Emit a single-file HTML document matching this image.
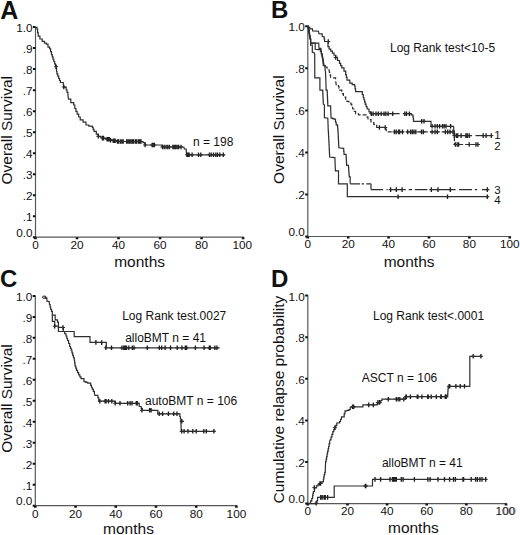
<!DOCTYPE html>
<html><head><meta charset="utf-8"><title>Figure</title>
<style>
html,body{margin:0;padding:0;background:#fff;}
body{width:520px;height:535px;overflow:hidden;}
svg{display:block;}
text{font-family:"Liberation Sans", sans-serif;}
</style></head><body>
<svg width="520" height="535" viewBox="0 0 520 535" font-family='"Liberation Sans", sans-serif' fill="#111">
<rect width="520" height="535" fill="#fff"/>
<path d="M35.5 26.6V237.2" stroke="#585858" stroke-width="1.2"/>
<path d="M35.5 237.2H244.1" stroke="#585858" stroke-width="1.2"/>
<text x="32.6" y="236.9" font-size="11.75" text-anchor="end" font-weight="normal">0.0</text>
<text x="32.6" y="221.09" font-size="11.75" text-anchor="end" font-weight="normal">.1</text>
<text x="32.6" y="200.08" font-size="11.75" text-anchor="end" font-weight="normal">.2</text>
<text x="32.6" y="179.07" font-size="11.75" text-anchor="end" font-weight="normal">.3</text>
<text x="32.6" y="158.06" font-size="11.75" text-anchor="end" font-weight="normal">.4</text>
<text x="32.6" y="137.05" font-size="11.75" text-anchor="end" font-weight="normal">.5</text>
<text x="32.6" y="116.04" font-size="11.75" text-anchor="end" font-weight="normal">.6</text>
<text x="32.6" y="95.03" font-size="11.75" text-anchor="end" font-weight="normal">.7</text>
<text x="32.6" y="74.02" font-size="11.75" text-anchor="end" font-weight="normal">.8</text>
<text x="32.6" y="53.01" font-size="11.75" text-anchor="end" font-weight="normal">.9</text>
<text x="32.6" y="32" font-size="11.75" text-anchor="end" font-weight="normal">1.0</text>
<text x="35.5" y="249" font-size="11.75" text-anchor="middle" font-weight="normal">0</text>
<text x="77.02" y="249" font-size="11.75" text-anchor="middle" font-weight="normal">20</text>
<text x="118.54" y="249" font-size="11.75" text-anchor="middle" font-weight="normal">40</text>
<text x="160.06" y="249" font-size="11.75" text-anchor="middle" font-weight="normal">60</text>
<text x="201.58" y="249" font-size="11.75" text-anchor="middle" font-weight="normal">80</text>
<text x="242.3" y="249" font-size="11.75" text-anchor="middle" font-weight="normal">100</text>
<path d="M32.9 236.2h2.6v2h-2.6zM32.9 215.19h2.6v2h-2.6zM32.9 194.18h2.6v2h-2.6zM32.9 173.17h2.6v2h-2.6zM32.9 152.16h2.6v2h-2.6zM32.9 131.15h2.6v2h-2.6zM32.9 110.14h2.6v2h-2.6zM32.9 89.13h2.6v2h-2.6zM32.9 68.12h2.6v2h-2.6zM32.9 47.11h2.6v2h-2.6zM32.9 26.1h2.6v2h-2.6zM34.2 237.2h2.6v2h-2.6zM75.72 237.2h2.6v2h-2.6zM117.24 237.2h2.6v2h-2.6zM158.76 237.2h2.6v2h-2.6zM200.28 237.2h2.6v2h-2.6zM241.8 237.2h2.6v2h-2.6z" fill="#111"/>
<text x="0.3" y="18.6" font-size="25" text-anchor="start" font-weight="bold">A</text>
<text x="12.1" y="130.25" font-size="15.5" text-anchor="middle" font-weight="normal" transform="rotate(-90 12.1 130.25)">Overall Survival</text>
<text x="139.6" y="266.9" font-size="15.5" text-anchor="middle" font-weight="normal">months</text>
<text x="193" y="145.6" font-size="12" text-anchor="start" font-weight="normal">n = 198</text>
<polyline points="35.7,27.3 37,27.3 37,29.2 37.6,29.2 37.6,32.7 38.2,32.7 38.2,36.2 39.9,36.2 39.9,39 42.2,39 42.2,41.3 44.5,41.3 44.5,43.1 46.3,43.1 46.3,44.2 48,44.2 48,47.1 49.7,47.1 49.7,48.8 50.6,48.8 50.6,51.7 51.5,51.7 51.5,54.6 52.27,54.6 52.27,56.9 53.03,56.9 53.03,59.2 53.8,59.2 53.8,61.5 54.65,61.5 54.65,63.85 55.5,63.85 55.5,66.2 56.3,66.2 56.3,69.2 56.6,69.2 56.6,71.5 56.9,71.5 56.9,73.8 57.8,73.8 57.8,76.15 58.7,76.15 58.7,78.5 59.55,78.5 59.55,80.5 60.4,80.5 60.4,82.5 63.3,82.5 63.3,84.8 63.8,87.1 66.2,87.1 66.2,90 67.05,90 67.05,92.3 67.9,92.3 67.9,94.6 68.5,99.2 70.8,99.2 70.8,102.7 73.7,102.7 73.7,105 74.8,105 74.8,108.5 75.95,108.5 75.95,111.35 77.1,111.35 77.1,114.2 78.65,114.2 78.65,117 80.2,117 80.2,119.8 83.1,119.8 83.1,122.1 86,122.1 86,125 88.8,125 88.8,126.2 92.3,126.2 92.3,127.3 93.15,127.3 93.15,129.3 94,129.3 94,131.3 96.3,131.3 96.3,134.2 98.3,134.2 98.3,136.3 100.4,136.3 100.4,137.2 102.5,137.2 102.5,138.1 104.75,138.1 104.75,138.65 107,138.65 107,139.2 109.5,139.2 109.5,139.8 112,139.8 112,140.4 114.5,140.4 114.5,140.95 117,140.95 117,141.5 141.5,141.5 143,141.5 143,142.7 145,142.7 145,145 161.9,145 161.9,147 183.8,147 184.4,149 186.2,149 186.2,150.7 186.7,154.8 225,154.8" fill="none" stroke="#2e2e2e" stroke-width="1.2"/>
<path d="M56.1 64.4v4.6" stroke="#1a1a1a" stroke-width="1.3" fill="none"/>
<path d="M54.1 66.7h4" stroke="#2e2e2e" stroke-width="1" fill="none"/>
<path d="M63.8 84.7v4.6" stroke="#1a1a1a" stroke-width="1.3" fill="none"/>
<path d="M61.8 87h4" stroke="#2e2e2e" stroke-width="1" fill="none"/>
<path d="M98.3 134v4.6" stroke="#1a1a1a" stroke-width="1.3" fill="none"/>
<path d="M96.3 136.3h4" stroke="#2e2e2e" stroke-width="1" fill="none"/>
<path d="M102.4 135.8v4.6M103.5 135.8v4.6" stroke="#1a1a1a" stroke-width="1.3" fill="none"/>
<path d="M100.4 138.1h4M101.5 138.1h4" stroke="#2e2e2e" stroke-width="1" fill="none"/>
<path d="M107 136.9v4.6M108.2 136.9v4.6M109.3 136.9v4.6" stroke="#1a1a1a" stroke-width="1.3" fill="none"/>
<path d="M105 139.2h4M106.2 139.2h4M107.3 139.2h4" stroke="#2e2e2e" stroke-width="1" fill="none"/>
<path d="M110.5 137.9v4.6" stroke="#1a1a1a" stroke-width="1.3" fill="none"/>
<path d="M108.5 140.2h4" stroke="#2e2e2e" stroke-width="1" fill="none"/>
<path d="M113.3 138.5v4.6M114.2 138.5v4.6M115.1 138.5v4.6" stroke="#1a1a1a" stroke-width="1.3" fill="none"/>
<path d="M111.3 140.8h4M112.2 140.8h4M113.1 140.8h4" stroke="#2e2e2e" stroke-width="1" fill="none"/>
<path d="M117.4 139.2v4.6M118.5 139.2v4.6M120.3 139.2v4.6M121.8 139.2v4.6M123.2 139.2v4.6M126.6 139.2v4.6M128 139.2v4.6M129.4 139.2v4.6M130.8 139.2v4.6M132.2 139.2v4.6M133.5 139.2v4.6M135.3 139.2v4.6M136.4 139.2v4.6M138.2 139.2v4.6M139.2 139.2v4.6M140.2 139.2v4.6M141 139.2v4.6" stroke="#1a1a1a" stroke-width="1.3" fill="none"/>
<path d="M115.4 141.5h4M116.5 141.5h4M118.3 141.5h4M119.8 141.5h4M121.2 141.5h4M124.6 141.5h4M126 141.5h4M127.4 141.5h4M128.8 141.5h4M130.2 141.5h4M131.5 141.5h4M133.3 141.5h4M134.4 141.5h4M136.2 141.5h4M137.2 141.5h4M138.2 141.5h4M139 141.5h4" stroke="#2e2e2e" stroke-width="1" fill="none"/>
<path d="M145.1 142.7v4.6M152.1 142.7v4.6M153.2 142.7v4.6M154.4 142.7v4.6" stroke="#1a1a1a" stroke-width="1.3" fill="none"/>
<path d="M143.1 145h4M150.1 145h4M151.2 145h4M152.4 145h4" stroke="#2e2e2e" stroke-width="1" fill="none"/>
<path d="M162.5 144.7v4.6M164.2 144.7v4.6M166 144.7v4.6M167.7 144.7v4.6M169.4 144.7v4.6M172.9 144.7v4.6M174.3 144.7v4.6M175.7 144.7v4.6M177.2 144.7v4.6M178.7 144.7v4.6M181 144.7v4.6" stroke="#1a1a1a" stroke-width="1.3" fill="none"/>
<path d="M160.5 147h4M162.2 147h4M164 147h4M165.7 147h4M167.4 147h4M170.9 147h4M172.3 147h4M173.7 147h4M175.2 147h4M176.7 147h4M179 147h4" stroke="#2e2e2e" stroke-width="1" fill="none"/>
<path d="M186.9 152.5v4.6M188.2 152.5v4.6M189.2 152.5v4.6M192.1 152.5v4.6M198.5 152.5v4.6M200.8 152.5v4.6M209.4 152.5v4.6M211.2 152.5v4.6M213.5 152.5v4.6M215.8 152.5v4.6M217.5 152.5v4.6M219.8 152.5v4.6M223.3 152.5v4.6" stroke="#1a1a1a" stroke-width="1.3" fill="none"/>
<path d="M184.9 154.8h4M186.2 154.8h4M187.2 154.8h4M190.1 154.8h4M196.5 154.8h4M198.8 154.8h4M207.4 154.8h4M209.2 154.8h4M211.5 154.8h4M213.8 154.8h4M215.5 154.8h4M217.8 154.8h4M221.3 154.8h4" stroke="#2e2e2e" stroke-width="1" fill="none"/>
<path d="M307.8 25.8V236.5" stroke="#585858" stroke-width="1.2"/>
<path d="M307.8 236.5H510.8" stroke="#585858" stroke-width="1.2"/>
<text x="304.9" y="236.2" font-size="11.75" text-anchor="end" font-weight="normal">0.0</text>
<text x="304.9" y="199.36" font-size="11.75" text-anchor="end" font-weight="normal">.2</text>
<text x="304.9" y="157.32" font-size="11.75" text-anchor="end" font-weight="normal">.4</text>
<text x="304.9" y="115.28" font-size="11.75" text-anchor="end" font-weight="normal">.6</text>
<text x="304.9" y="73.24" font-size="11.75" text-anchor="end" font-weight="normal">.8</text>
<text x="304.9" y="31.2" font-size="11.75" text-anchor="end" font-weight="normal">1.0</text>
<text x="307.8" y="248.3" font-size="11.75" text-anchor="middle" font-weight="normal">0</text>
<text x="348.2" y="248.3" font-size="11.75" text-anchor="middle" font-weight="normal">20</text>
<text x="388.6" y="248.3" font-size="11.75" text-anchor="middle" font-weight="normal">40</text>
<text x="429" y="248.3" font-size="11.75" text-anchor="middle" font-weight="normal">60</text>
<text x="469.4" y="248.3" font-size="11.75" text-anchor="middle" font-weight="normal">80</text>
<text x="509.8" y="248.3" font-size="11.75" text-anchor="middle" font-weight="normal">100</text>
<path d="M305.2 235.5h2.6v2h-2.6zM305.2 193.46h2.6v2h-2.6zM305.2 151.42h2.6v2h-2.6zM305.2 109.38h2.6v2h-2.6zM305.2 67.34h2.6v2h-2.6zM305.2 25.3h2.6v2h-2.6zM306.5 236.5h2.6v2h-2.6zM346.9 236.5h2.6v2h-2.6zM387.3 236.5h2.6v2h-2.6zM427.7 236.5h2.6v2h-2.6zM468.1 236.5h2.6v2h-2.6zM508.5 236.5h2.6v2h-2.6z" fill="#111"/>
<text x="271" y="17.9" font-size="24" text-anchor="start" font-weight="bold">B</text>
<text x="284.4" y="129.6" font-size="15.5" text-anchor="middle" font-weight="normal" transform="rotate(-90 284.4 129.6)">Overall Survival</text>
<text x="409.1" y="266.6" font-size="15.5" text-anchor="middle" font-weight="normal">months</text>
<text x="390" y="51.6" font-size="12" text-anchor="start" font-weight="normal">Log Rank test&lt;10-5</text>
<text x="494.2" y="138.5" font-size="11.5" text-anchor="start" font-weight="normal">1</text>
<text x="494.2" y="149.5" font-size="11.5" text-anchor="start" font-weight="normal">2</text>
<text x="494.2" y="193.7" font-size="11.5" text-anchor="start" font-weight="normal">3</text>
<text x="494.2" y="204.2" font-size="11.5" text-anchor="start" font-weight="normal">4</text>
<polyline points="307.9,26.3 308.6,26.3 308.6,27.3 309.8,27.3 309.8,28.9 312.4,28.9 312.7,30.9 318.5,31.2 318.9,33.7 321.3,33.9 322.2,33.9 322.2,36.4 323.8,36.8 324.2,36.8 324.2,39.15 324.6,39.15 324.6,41.5 328.1,41.5 327.9,46.7 329.1,46.7 329.1,49.1 330.75,49.1 330.75,51.15 332.4,51.15 332.4,53.2 334.05,53.2 334.05,55.25 335.7,55.25 335.7,57.3 337.5,57.3 337.5,60.5 339.5,60.5 339.5,63.4 340.65,63.4 340.65,65.6 341.8,65.6 341.8,67.8 344,67.8 344,71.2 345.7,71.2 345.7,74.6 346.35,74.6 346.35,77.4 347,77.4 347,80.2 349.8,80.2 349.8,83.1 352.2,83.1 352.2,84.55 354.6,84.55 354.6,86 355.1,86 355.1,88.85 355.6,88.85 355.6,91.7 361.3,91.7 362.3,91.7 362.3,94.6 363.3,94.6 363.3,97.5 363.93,97.5 363.93,99.73 364.57,99.73 364.57,101.97 365.2,101.97 365.2,104.2 366.15,104.2 366.15,106.6 367.1,106.6 367.1,109 369,109 369,111.9 370.5,111.9 370.5,113.7 399.6,113.7" fill="none" stroke="#2e2e2e" stroke-width="1.2"/>
<polyline points="403,113.7 411.2,113.7 411.2,114.8 412.9,114.8 412.9,116.5 413.2,116.5 413.2,118.9 413.5,118.9 413.5,121.3 431,121.3 431,126.3 453.5,126.3 454,131.2 454.3,131.2 454.3,133.4 454.6,133.4 454.6,135.6 472,135.6" fill="none" stroke="#2e2e2e" stroke-width="1.2"/>
<polyline points="475.5,135.6 492.3,135.6" fill="none" stroke="#2e2e2e" stroke-width="1.2"/>
<path d="M328.3 39.2v4.6" stroke="#1a1a1a" stroke-width="1.3" fill="none"/>
<path d="M326.3 41.5h4" stroke="#2e2e2e" stroke-width="1" fill="none"/>
<path d="M335.7 55.2v4.6" stroke="#1a1a1a" stroke-width="1.3" fill="none"/>
<path d="M333.7 57.5h4" stroke="#2e2e2e" stroke-width="1" fill="none"/>
<path d="M371.3 111.4v4.6M373.1 111.4v4.6M376 111.4v4.6M378.3 111.4v4.6M381.2 111.4v4.6M384 111.4v4.6M385.8 111.4v4.6M388.1 111.4v4.6M392.7 111.4v4.6M404.8 111.4v4.6M406.5 111.4v4.6M409.4 111.4v4.6" stroke="#1a1a1a" stroke-width="1.3" fill="none"/>
<path d="M369.3 113.7h4M371.1 113.7h4M374 113.7h4M376.3 113.7h4M379.2 113.7h4M382 113.7h4M383.8 113.7h4M386.1 113.7h4M390.7 113.7h4M402.8 113.7h4M404.5 113.7h4M407.4 113.7h4" stroke="#2e2e2e" stroke-width="1" fill="none"/>
<path d="M421.7 119v4.6M424 119v4.6" stroke="#1a1a1a" stroke-width="1.3" fill="none"/>
<path d="M419.7 121.3h4M422 121.3h4" stroke="#2e2e2e" stroke-width="1" fill="none"/>
<path d="M432.1 124v4.6M435 124v4.6M437.3 124v4.6M439.6 124v4.6M442.5 124v4.6M444.2 124v4.6M446 124v4.6M450.6 124v4.6" stroke="#1a1a1a" stroke-width="1.3" fill="none"/>
<path d="M430.1 126.3h4M433 126.3h4M435.3 126.3h4M437.6 126.3h4M440.5 126.3h4M442.2 126.3h4M444 126.3h4M448.6 126.3h4" stroke="#2e2e2e" stroke-width="1" fill="none"/>
<path d="M454.3 133.3v4.6M456.3 133.3v4.6M457.7 133.3v4.6M461.1 133.3v4.6M465.9 133.3v4.6M467.3 133.3v4.6M469.2 133.3v4.6M483.2 133.3v4.6M486.1 133.3v4.6M491.3 133.3v4.6" stroke="#1a1a1a" stroke-width="1.3" fill="none"/>
<path d="M452.3 135.6h4M454.3 135.6h4M455.7 135.6h4M459.1 135.6h4M463.9 135.6h4M465.3 135.6h4M467.2 135.6h4M481.2 135.6h4M484.1 135.6h4M489.3 135.6h4" stroke="#2e2e2e" stroke-width="1" fill="none"/>
<polyline points="307.9,26.3 308.4,26.3 308.4,28.65 308.9,28.65 308.9,31 309.2,31 309.2,33.5 309.5,33.5 309.5,36 310.05,36 310.05,38.75 310.6,38.75 310.6,41.5 310.6,43.2 318.7,43.2 319,48.4 321,48.4 321,51.6 321.43,51.6 321.43,53.75 321.85,53.75 321.85,55.9 322.27,55.9 322.27,58.05 322.7,58.05 322.7,60.2 323,60.2 323,62.8 323.3,62.8 323.3,65.4 325,65.4 325,67" fill="none" stroke="#2e2e2e" stroke-width="1.2"/>
<polyline points="325,67 326.95,67 326.95,68 328.9,68 328.9,69 329.4,72.3 330,72.3 330,74.85 330.6,74.85 330.6,77.4 332.2,77.9 335.6,77.9 335.6,80.7 336.2,84.6 338.4,84.6 338.4,86.3 338.95,86.3 338.95,88.25 339.5,88.25 339.5,90.2 341.8,90.2 341.8,93.6 343.4,93.6 343.4,97 345.7,97 345.7,99.2 347,99.2 347,101.3 348.9,101.3 348.9,102.75 350.8,102.75 350.8,104.2 351.75,104.2 351.75,106.6 352.7,106.6 352.7,109 354.15,109 354.15,111.4 355.6,111.4 355.6,113.8 358.5,113.8 358.5,114.8 366.2,114.8 367.1,114.8 367.1,117.2 368,117.2 368,119.6 371,119.6 371,122.5 373.8,122.5 373.8,124.4 376.7,124.4 376.7,127.3 385.5,127.5 385.9,127.5 385.9,129.7 386.3,129.7 386.3,131.9 453.9,131.9 454.04,131.9 454.04,134.42 454.18,134.42 454.18,136.94 454.32,136.94 454.32,139.46 454.46,139.46 454.46,141.98 454.6,141.98 454.6,144.5 479,144.5" fill="none" stroke="#2e2e2e" stroke-width="1.2" stroke-dasharray="4,2"/>
<path d="M379.4 125.2v4.6M385.2 125.2v4.6" stroke="#1a1a1a" stroke-width="1.3" fill="none"/>
<path d="M377.4 127.5h4M383.2 127.5h4" stroke="#2e2e2e" stroke-width="1" fill="none"/>
<path d="M394.4 129.6v4.6M396.2 129.6v4.6M398.5 129.6v4.6M399.6 129.6v4.6M402.5 129.6v4.6M407.7 129.6v4.6M410.6 129.6v4.6M412.3 129.6v4.6M414 129.6v4.6M415.8 129.6v4.6M421.5 129.6v4.6M423.3 129.6v4.6M432.1 129.6v4.6M435 129.6v4.6M437.3 129.6v4.6M445.4 129.6v4.6M447.7 129.6v4.6M450 129.6v4.6M452.9 129.6v4.6" stroke="#1a1a1a" stroke-width="1.3" fill="none"/>
<path d="M392.4 131.9h4M394.2 131.9h4M396.5 131.9h4M397.6 131.9h4M400.5 131.9h4M405.7 131.9h4M408.6 131.9h4M410.3 131.9h4M412 131.9h4M413.8 131.9h4M419.5 131.9h4M421.3 131.9h4M430.1 131.9h4M433 131.9h4M435.3 131.9h4M443.4 131.9h4M445.7 131.9h4M448 131.9h4M450.9 131.9h4" stroke="#2e2e2e" stroke-width="1" fill="none"/>
<path d="M455.3 142.2v4.6M457.2 142.2v4.6M458.7 142.2v4.6M469.2 142.2v4.6M476 142.2v4.6M477.9 142.2v4.6" stroke="#1a1a1a" stroke-width="1.3" fill="none"/>
<path d="M453.3 144.5h4M455.2 144.5h4M456.7 144.5h4M467.2 144.5h4M474 144.5h4M475.9 144.5h4" stroke="#2e2e2e" stroke-width="1" fill="none"/>
<polyline points="307.9,26.3 308.27,26.3 308.27,28.53 308.63,28.53 308.63,30.77 309,30.77 309,33 309.4,33 309.4,35.12 309.8,35.12 309.8,37.25 310.2,37.25 310.2,39.38 310.6,39.38 310.6,41.5 310.6,43.2 315.2,43.2 315.2,49.3 318.7,49.6 320.5,49.6 320.5,51.2 321.35,51.2 321.35,53.85 322.2,53.85 322.2,56.5 322.6,56.5 322.6,58.55 323,58.55 323,60.6 323.4,60.6 323.4,63.1 323.8,63.1 323.8,65.6 325,65.6 325,68.4 325.5,72.3 325.9,81.3 326.1,90.2 327.2,90.2 327.2,92.5 327.3,92.5 327.3,94.73 327.4,94.73 327.4,96.97 327.5,96.97 327.5,99.2 327.6,99.2 327.6,101.43 327.7,101.43 327.7,103.67 327.8,103.67 327.8,105.9 330.6,105.9 330.6,107 331.1,118.2 333,118.2 333,118.9 334.9,118.9 334.9,119.6 335.55,119.6 335.55,122.25 336.2,122.25 336.2,124.9 337.5,124.9 337.5,126.2 337.7,126.2 337.7,128.8 337.9,128.8 337.9,131.4 338.1,131.4 338.1,134 338.22,134 338.22,136.3 338.33,136.3 338.33,138.6 338.45,138.6 338.45,140.9 338.57,140.9 338.57,143.2 338.68,143.2 338.68,145.5 338.8,145.5 338.8,147.8 343.4,148.4 343.7,148.4 343.7,151.35 344,151.35 344,154.3 346,154.3 346,155 346.15,155 346.15,157.6 346.3,157.6 346.3,160.2 346.45,160.2 346.45,162.8 346.6,162.8 346.6,165.4 348.5,165.4 348.5,167.7 348.68,167.7 348.68,170 348.85,170 348.85,172.3 349.02,172.3 349.02,174.6 349.2,174.6 349.2,176.9 350.2,176.9 350.2,178.5 350.2,183.8" fill="none" stroke="#2e2e2e" stroke-width="1.2"/>
<path d="M350.2 183.8H360M361.7 183.8H364M366.3 183.8H371M371 183.8V189.6M371 189.6H383M386.5 189.6H387.7M389.4 189.6H402.5M403.8 189.6H405.8M408.7 189.6H412M414.9 189.6H427.4M429.5 189.6H455.6M459 189.6H472M474.8 189.6H477.2M482 189.6H489.2" fill="none" stroke="#2e2e2e" stroke-width="1.2"/>
<path d="M390.6 187.3v4.6M396.3 187.3v4.6M402.1 187.3v4.6M431.3 187.3v4.6M438 187.3v4.6M450.3 187.3v4.6M487.3 187.3v4.6" stroke="#1a1a1a" stroke-width="1.3" fill="none"/>
<path d="M388.6 189.6h4M394.3 189.6h4M400.1 189.6h4M429.3 189.6h4M436 189.6h4M448.3 189.6h4M485.3 189.6h4" stroke="#2e2e2e" stroke-width="1" fill="none"/>
<polyline points="307.9,26.3 308.25,26.3 308.25,28.15 308.6,28.15 308.6,30 309.05,30 309.05,33 309.5,33 309.5,36 310.05,36 310.05,38.5 310.6,38.5 310.6,41 310.6,45.2 312.3,45.2 312.3,52.2 314.1,52.7 314.7,53.9 314.8,77.9 319.9,77.9 319.9,90.2 322.7,90.2 322.7,91.9 322.82,91.9 322.82,94.36 322.94,94.36 322.94,96.82 323.06,96.82 323.06,99.28 323.18,99.28 323.18,101.74 323.3,101.74 323.3,104.2 324.4,104.8 324.4,117.7 327.8,118.2 328.3,131.4 328.44,131.4 328.44,134.02 328.58,134.02 328.58,136.64 328.72,136.64 328.72,139.26 328.86,139.26 328.86,141.88 329,141.88 329,144.5 329.12,144.5 329.12,147 329.24,147 329.24,149.5 329.36,149.5 329.36,152 329.48,152 329.48,154.5 329.6,154.5 329.6,157 334.9,157.6 335.4,170.8 338.5,170.8 338.5,183.8 347.3,183.8 347.3,196.7 488.8,196.7" fill="none" stroke="#2e2e2e" stroke-width="1.2"/>
<path d="M398.1 194.4v4.6M447.5 194.4v4.6M487.3 194.4v4.6" stroke="#1a1a1a" stroke-width="1.3" fill="none"/>
<path d="M396.1 196.7h4M445.5 196.7h4M485.3 196.7h4" stroke="#2e2e2e" stroke-width="1" fill="none"/>
<path d="M35.3 295.4V505.7" stroke="#585858" stroke-width="1.2"/>
<path d="M35.3 505.7H237.4" stroke="#585858" stroke-width="1.2"/>
<text x="32.4" y="505.4" font-size="11.75" text-anchor="end" font-weight="normal">0.0</text>
<text x="32.4" y="489.62" font-size="11.75" text-anchor="end" font-weight="normal">.1</text>
<text x="32.4" y="468.64" font-size="11.75" text-anchor="end" font-weight="normal">.2</text>
<text x="32.4" y="447.66" font-size="11.75" text-anchor="end" font-weight="normal">.3</text>
<text x="32.4" y="426.68" font-size="11.75" text-anchor="end" font-weight="normal">.4</text>
<text x="32.4" y="405.7" font-size="11.75" text-anchor="end" font-weight="normal">.5</text>
<text x="32.4" y="384.72" font-size="11.75" text-anchor="end" font-weight="normal">.6</text>
<text x="32.4" y="363.74" font-size="11.75" text-anchor="end" font-weight="normal">.7</text>
<text x="32.4" y="342.76" font-size="11.75" text-anchor="end" font-weight="normal">.8</text>
<text x="32.4" y="321.78" font-size="11.75" text-anchor="end" font-weight="normal">.9</text>
<text x="32.4" y="300.8" font-size="11.75" text-anchor="end" font-weight="normal">1.0</text>
<text x="35.3" y="517.5" font-size="11.75" text-anchor="middle" font-weight="normal">0</text>
<text x="75.52" y="517.5" font-size="11.75" text-anchor="middle" font-weight="normal">20</text>
<text x="115.74" y="517.5" font-size="11.75" text-anchor="middle" font-weight="normal">40</text>
<text x="155.96" y="517.5" font-size="11.75" text-anchor="middle" font-weight="normal">60</text>
<text x="196.18" y="517.5" font-size="11.75" text-anchor="middle" font-weight="normal">80</text>
<text x="236.4" y="517.5" font-size="11.75" text-anchor="middle" font-weight="normal">100</text>
<path d="M32.7 504.7h2.6v2h-2.6zM32.7 483.72h2.6v2h-2.6zM32.7 462.74h2.6v2h-2.6zM32.7 441.76h2.6v2h-2.6zM32.7 420.78h2.6v2h-2.6zM32.7 399.8h2.6v2h-2.6zM32.7 378.82h2.6v2h-2.6zM32.7 357.84h2.6v2h-2.6zM32.7 336.86h2.6v2h-2.6zM32.7 315.88h2.6v2h-2.6zM32.7 294.9h2.6v2h-2.6zM34 505.7h2.6v2h-2.6zM74.22 505.7h2.6v2h-2.6zM114.44 505.7h2.6v2h-2.6zM154.66 505.7h2.6v2h-2.6zM194.88 505.7h2.6v2h-2.6zM235.1 505.7h2.6v2h-2.6z" fill="#111"/>
<text x="-0.1" y="287.2" font-size="24" text-anchor="start" font-weight="bold">C</text>
<text x="12.4" y="398.5" font-size="15.5" text-anchor="middle" font-weight="normal" transform="rotate(-90 12.4 398.5)">Overall Survival</text>
<text x="128.5" y="533.5" font-size="15.5" text-anchor="middle" font-weight="normal">months</text>
<text x="122.2" y="319.6" font-size="12" text-anchor="start" font-weight="normal">Log Rank test.0027</text>
<text x="125.2" y="341.5" font-size="12" text-anchor="start" font-weight="normal">alloBMT n = 41</text>
<text x="145" y="404.5" font-size="12" text-anchor="start" font-weight="normal">autoBMT n = 106</text>
<polyline points="44.3,297.2 45.5,297.2 45.5,298.1 46.9,298.1 46.9,301.2 49.2,301.5 49.5,304.7 50.1,304.7 50.1,307 50.7,307 50.7,309.3 51.5,309.3 51.5,311.4 52.3,311.4 52.3,313.5 52.3,315.2 55.2,315.2 55.2,319.8 57.5,319.8 57.5,322.1 58.4,322.1 58.4,324.4 58.4,327.3 63.3,327.3 63.3,331.5 74.2,331.5 74.2,336.7 90,336.7 90,342.4 106.3,342.4 106.3,347.8 219.6,347.8" fill="none" stroke="#2e2e2e" stroke-width="1.2"/>
<polyline points="52.3,315.2 52.3,321.3 54.7,321.3 54.7,326.2 58.4,326.2 58.4,331.5 63.3,331.5 64.65,331.5 64.65,333.75 66,333.75 66,336 66.75,336 66.75,338.25 67.5,338.25 67.5,340.5 68.6,340.5 68.6,343.5 69.7,343.5 69.7,346.5 70.45,346.5 70.45,348.35 71.2,348.35 71.2,350.2 71.95,350.2 71.95,352.8 72.7,352.8 72.7,355.4 73.45,355.4 73.45,357.7 74.2,357.7 74.2,360 74.6,360 74.6,362.95 75,362.95 75,365.9 75.75,365.9 75.75,368.15 76.5,368.15 76.5,370.4 77.6,370.4 77.6,372.65 78.7,372.65 78.7,374.9 79.85,374.9 79.85,376.8 81,376.8 81,378.7 84,378.7 84,381.6 85.85,381.6 85.85,382.35 87.7,382.35 87.7,383.1 90.7,383.1 90.7,385.4 91.45,385.4 91.45,387.25 92.2,387.25 92.2,389.1 93.3,389.1 93.3,391.35 94.4,391.35 94.4,393.6 95,395.4 97.9,395.4 97.9,397.8 98.8,397.8 98.8,401.2 112.8,401.2 115.2,401.2 115.2,403.3 136.8,403.3 139.2,403.3 139.2,406.5 141.2,406.5 141.2,408.4 142.1,408.4 142.1,410.3 157.8,410.3 157.8,413.8 178.9,413.8 179.9,413.8 179.9,416.5 180.4,416.5 180.4,418.9 180.9,418.9 180.9,421.3 181.25,431.3 215.4,431.3" fill="none" stroke="#2e2e2e" stroke-width="1.2"/>
<ellipse cx="44.3" cy="297.2" rx="1.9" ry="1.2" fill="none" stroke="#222" stroke-width="1"/>
<path d="M54.7 323.9v4.6" stroke="#1a1a1a" stroke-width="1.3" fill="none"/>
<path d="M52.7 326.2h4" stroke="#2e2e2e" stroke-width="1" fill="none"/>
<path d="M63 325.2v4.6" stroke="#1a1a1a" stroke-width="1.3" fill="none"/>
<path d="M61 327.5h4" stroke="#2e2e2e" stroke-width="1" fill="none"/>
<path d="M95.9 340.1v4.6" stroke="#1a1a1a" stroke-width="1.3" fill="none"/>
<path d="M93.9 342.4h4" stroke="#2e2e2e" stroke-width="1" fill="none"/>
<path d="M101.7 340.3v4.6" stroke="#1a1a1a" stroke-width="1.3" fill="none"/>
<path d="M99.7 342.6h4" stroke="#2e2e2e" stroke-width="1" fill="none"/>
<path d="M105.8 345.5v4.6M111.5 345.5v4.6M121.9 345.5v4.6M123.7 345.5v4.6M124.6 345.5v4.6M125.6 345.5v4.6M126.5 345.5v4.6M128.8 345.5v4.6M132.3 345.5v4.6M134 345.5v4.6M147.3 345.5v4.6M159.4 345.5v4.6M161.7 345.5v4.6M165.1 345.5v4.6M170.5 345.5v4.6M177.2 345.5v4.6M181.9 345.5v4.6M185.3 345.5v4.6M186.6 345.5v4.6M195.4 345.5v4.6M204.1 345.5v4.6M209.3 345.5v4.6M210.3 345.5v4.6M214.9 345.5v4.6M216.9 345.5v4.6" stroke="#1a1a1a" stroke-width="1.3" fill="none"/>
<path d="M103.8 347.8h4M109.5 347.8h4M119.9 347.8h4M121.7 347.8h4M122.6 347.8h4M123.6 347.8h4M124.5 347.8h4M126.8 347.8h4M130.3 347.8h4M132 347.8h4M145.3 347.8h4M157.4 347.8h4M159.7 347.8h4M163.1 347.8h4M168.5 347.8h4M175.2 347.8h4M179.9 347.8h4M183.3 347.8h4M184.6 347.8h4M193.4 347.8h4M202.1 347.8h4M207.3 347.8h4M208.3 347.8h4M212.9 347.8h4M214.9 347.8h4" stroke="#2e2e2e" stroke-width="1" fill="none"/>
<path d="M99.8 398.9v4.6M105.1 398.9v4.6M106.1 398.9v4.6M108.5 398.9v4.6M111.8 398.9v4.6" stroke="#1a1a1a" stroke-width="1.3" fill="none"/>
<path d="M97.8 401.2h4M103.1 401.2h4M104.1 401.2h4M106.5 401.2h4M109.8 401.2h4" stroke="#2e2e2e" stroke-width="1" fill="none"/>
<path d="M115.2 401v4.6M120 401v4.6M127.7 401v4.6M130.1 401v4.6M132 401v4.6M136.3 401v4.6M137.3 401v4.6" stroke="#1a1a1a" stroke-width="1.3" fill="none"/>
<path d="M113.2 403.3h4M118 403.3h4M125.7 403.3h4M128.1 403.3h4M130 403.3h4M134.3 403.3h4M135.3 403.3h4" stroke="#2e2e2e" stroke-width="1" fill="none"/>
<path d="M141.9 408v4.6M149.6 408v4.6M151.1 408v4.6" stroke="#1a1a1a" stroke-width="1.3" fill="none"/>
<path d="M139.9 410.3h4M147.6 410.3h4M149.1 410.3h4" stroke="#2e2e2e" stroke-width="1" fill="none"/>
<path d="M159.2 411.5v4.6M162.6 411.5v4.6M168.4 411.5v4.6M173.7 411.5v4.6M177 411.5v4.6" stroke="#1a1a1a" stroke-width="1.3" fill="none"/>
<path d="M157.2 413.8h4M160.6 413.8h4M166.4 413.8h4M171.7 413.8h4M175 413.8h4" stroke="#2e2e2e" stroke-width="1" fill="none"/>
<path d="M181.8 419v4.6" stroke="#1a1a1a" stroke-width="1.3" fill="none"/>
<path d="M179.8 421.3h4" stroke="#2e2e2e" stroke-width="1" fill="none"/>
<path d="M179.8 421.3H184.1" stroke="#222" stroke-width="1"/>
<path d="M181.7 429v4.6M184.1 429v4.6M188 429v4.6M192.8 429v4.6M196.2 429v4.6M203.8 429v4.6M206.3 429v4.6M213.9 429v4.6" stroke="#1a1a1a" stroke-width="1.3" fill="none"/>
<path d="M179.7 431.3h4M182.1 431.3h4M186 431.3h4M190.8 431.3h4M194.2 431.3h4M201.8 431.3h4M204.3 431.3h4M211.9 431.3h4" stroke="#2e2e2e" stroke-width="1" fill="none"/>
<path d="M307.8 295.1V503.6" stroke="#585858" stroke-width="1.2"/>
<path d="M307.8 503.6H507" stroke="#585858" stroke-width="1.2"/>
<text x="304.9" y="503.3" font-size="11.75" text-anchor="end" font-weight="normal">0.0</text>
<text x="304.9" y="466.9" font-size="11.75" text-anchor="end" font-weight="normal">.2</text>
<text x="304.9" y="425.3" font-size="11.75" text-anchor="end" font-weight="normal">.4</text>
<text x="304.9" y="383.7" font-size="11.75" text-anchor="end" font-weight="normal">.6</text>
<text x="304.9" y="342.1" font-size="11.75" text-anchor="end" font-weight="normal">.8</text>
<text x="304.9" y="300.5" font-size="11.75" text-anchor="end" font-weight="normal">1.0</text>
<text x="307.8" y="515.4" font-size="11.75" text-anchor="middle" font-weight="normal">0</text>
<text x="347.44" y="515.4" font-size="11.75" text-anchor="middle" font-weight="normal">20</text>
<text x="387.08" y="515.4" font-size="11.75" text-anchor="middle" font-weight="normal">40</text>
<text x="426.72" y="515.4" font-size="11.75" text-anchor="middle" font-weight="normal">60</text>
<text x="466.36" y="515.4" font-size="11.75" text-anchor="middle" font-weight="normal">80</text>
<text x="505.2" y="515.4" font-size="11.75" text-anchor="middle" font-weight="normal">100</text>
<path d="M305.2 502.6h2.6v2h-2.6zM305.2 461h2.6v2h-2.6zM305.2 419.4h2.6v2h-2.6zM305.2 377.8h2.6v2h-2.6zM305.2 336.2h2.6v2h-2.6zM305.2 294.6h2.6v2h-2.6zM306.5 503.6h2.6v2h-2.6zM346.14 503.6h2.6v2h-2.6zM385.78 503.6h2.6v2h-2.6zM425.42 503.6h2.6v2h-2.6zM465.06 503.6h2.6v2h-2.6zM504.7 503.6h2.6v2h-2.6z" fill="#111"/>
<text x="271" y="286.9" font-size="24" text-anchor="start" font-weight="bold">D</text>
<text x="284.2" y="399.6" font-size="15.5" text-anchor="middle" font-weight="normal" transform="rotate(-90 284.2 399.6)">Cumulative relapse probability</text>
<text x="413.4" y="532.9" font-size="15.5" text-anchor="middle" font-weight="normal">months</text>
<text x="373" y="320.2" font-size="12" text-anchor="start" font-weight="normal">Log Rank test&lt;.0001</text>
<text x="361.8" y="382.1" font-size="12" text-anchor="start" font-weight="normal">ASCT n = 106</text>
<text x="381.9" y="467" font-size="12" text-anchor="start" font-weight="normal">alloBMT n = 41</text>
<text x="503.0" y="515.4" font-size="11.75" fill="#444" fill-opacity="0.5">00</text>
<polyline points="308,503.3 310.7,503.3 310.7,500.8 311.8,500.8 311.8,498.5 312.6,498.5 312.6,495.4 313,495.4 313,493.45 313.4,493.45 313.4,491.5 314.5,491.5 314.5,488 316.5,488 316.5,485.8 318,485.8 318,484.6 319.9,484.6 319.9,483.5 321.8,483.5 321.8,481.9 323.4,481.9 323.4,479.2 323.8,479.2 323.8,476.9 324.2,476.9 324.2,474.6 324.75,474.6 324.75,472.3 325.3,472.3 325.3,470 325.6,461.7 326.1,461.7 326.1,459.12 326.6,459.12 326.6,456.55 327.1,456.55 327.1,453.97 327.6,453.97 327.6,451.4 328.12,451.4 328.12,448.82 328.65,448.82 328.65,446.25 329.18,446.25 329.18,443.68 329.7,443.68 329.7,441.1 330.1,439.8 331,439.8 331,437.1 331.9,437.1 331.9,434.4 332.8,434.4 332.8,431.7 333.8,431.7 333.8,429.7 334.8,429.7 334.8,427.7 335.8,427.7 335.8,425.35 336.8,425.35 336.8,423 339.5,423 339.5,421.6 340.5,421.6 340.5,419.25 341.5,419.25 341.5,416.9 344.2,416.9 344.2,413.6 345,413.6 345,410.9 347,410.9 347,410.3 349,410.3 349,409.7 350.2,409.7 350.2,407.4 351.3,406.8 362.9,406.8 362.9,404.9 376.2,404.9 377.3,404.9 377.3,402.8 380.8,402.8 380.8,400.5 381.9,400.5 381.9,399.2 404.6,399.2 405.8,399.2 405.8,396.7 447.5,396.7 447.68,396.7 447.68,394.1 447.85,394.1 447.85,391.5 448.02,391.5 448.02,388.9 448.2,388.9 448.2,386.3 469.8,386.3 469.8,356.3 482.3,356.3" fill="none" stroke="#2e2e2e" stroke-width="1.2"/>
<path d="M314.3 485.3v4.6" stroke="#1a1a1a" stroke-width="1.3" fill="none"/>
<path d="M312.3 487.6h4" stroke="#2e2e2e" stroke-width="1" fill="none"/>
<path d="M319.9 481.2v4.6M320.6 481.2v4.6" stroke="#1a1a1a" stroke-width="1.3" fill="none"/>
<path d="M317.9 483.5h4M318.6 483.5h4" stroke="#2e2e2e" stroke-width="1" fill="none"/>
<path d="M334.8 425.4v4.6" stroke="#1a1a1a" stroke-width="1.3" fill="none"/>
<path d="M332.8 427.7h4" stroke="#2e2e2e" stroke-width="1" fill="none"/>
<path d="M352.5 404.5v4.6M353.1 404.5v4.6M353.7 404.5v4.6" stroke="#1a1a1a" stroke-width="1.3" fill="none"/>
<path d="M350.5 406.8h4M351.1 406.8h4M351.7 406.8h4" stroke="#2e2e2e" stroke-width="1" fill="none"/>
<path d="M368.7 402.6v4.6M373.3 402.6v4.6" stroke="#1a1a1a" stroke-width="1.3" fill="none"/>
<path d="M366.7 404.9h4M371.3 404.9h4" stroke="#2e2e2e" stroke-width="1" fill="none"/>
<path d="M377.9 400.1v4.6M379.6 400.1v4.6" stroke="#1a1a1a" stroke-width="1.3" fill="none"/>
<path d="M375.9 402.4h4M377.6 402.4h4" stroke="#2e2e2e" stroke-width="1" fill="none"/>
<path d="M388.3 396.9v4.6M396.3 396.9v4.6M398.1 396.9v4.6M399.8 396.9v4.6M403.8 396.9v4.6" stroke="#1a1a1a" stroke-width="1.3" fill="none"/>
<path d="M386.3 399.2h4M394.3 399.2h4M396.1 399.2h4M397.8 399.2h4M401.8 399.2h4" stroke="#2e2e2e" stroke-width="1" fill="none"/>
<path d="M405.8 394.4v4.6M406.4 394.4v4.6M410.4 394.4v4.6M417.3 394.4v4.6M417.9 394.4v4.6M421.9 394.4v4.6M427.7 394.4v4.6M428.3 394.4v4.6M431.2 394.4v4.6M436.3 394.4v4.6M441 394.4v4.6M445.6 394.4v4.6M446.2 394.4v4.6" stroke="#1a1a1a" stroke-width="1.3" fill="none"/>
<path d="M403.8 396.7h4M404.4 396.7h4M408.4 396.7h4M415.3 396.7h4M415.9 396.7h4M419.9 396.7h4M425.7 396.7h4M426.3 396.7h4M429.2 396.7h4M434.3 396.7h4M439 396.7h4M443.6 396.7h4M444.2 396.7h4" stroke="#2e2e2e" stroke-width="1" fill="none"/>
<path d="M441 394.4v4.6M445.3 394.4v4.6" stroke="#1a1a1a" stroke-width="1.3" fill="none"/>
<path d="M439 396.7h4M443.3 396.7h4" stroke="#2e2e2e" stroke-width="1" fill="none"/>
<path d="M449.1 384v4.6M449.7 384v4.6M455.9 384v4.6M460.2 384v4.6M464.5 384v4.6" stroke="#1a1a1a" stroke-width="1.3" fill="none"/>
<path d="M447.1 386.3h4M447.7 386.3h4M453.9 386.3h4M458.2 386.3h4M462.5 386.3h4" stroke="#2e2e2e" stroke-width="1" fill="none"/>
<path d="M473.2 354v4.6M480.9 354v4.6" stroke="#1a1a1a" stroke-width="1.3" fill="none"/>
<path d="M471.2 356.3h4M478.9 356.3h4" stroke="#2e2e2e" stroke-width="1" fill="none"/>
<polyline points="308,503.6 316.1,503.6 316.8,503.6 316.8,500.8 317.6,500.8 317.6,497.4 334.2,497.4 334.2,486 372.5,486 372.5,479.4 487.1,479.4" fill="none" stroke="#2e2e2e" stroke-width="1.2"/>
<path d="M316.1 500.9v4.6" stroke="#1a1a1a" stroke-width="1.3" fill="none"/>
<path d="M314.1 503.2h4" stroke="#2e2e2e" stroke-width="1" fill="none"/>
<path d="M320.7 495.1v4.6M322.2 495.1v4.6M324.2 495.1v4.6M325.3 495.1v4.6M327.6 495.1v4.6" stroke="#1a1a1a" stroke-width="1.3" fill="none"/>
<path d="M318.7 497.4h4M320.2 497.4h4M322.2 497.4h4M323.3 497.4h4M325.6 497.4h4" stroke="#2e2e2e" stroke-width="1" fill="none"/>
<path d="M365.3 483.7v4.6M365.9 483.7v4.6" stroke="#1a1a1a" stroke-width="1.3" fill="none"/>
<path d="M363.3 486h4M363.9 486h4" stroke="#2e2e2e" stroke-width="1" fill="none"/>
<path d="M375 477.1v4.6M380.6 477.1v4.6M390 477.1v4.6M392.5 477.1v4.6M393.4 477.1v4.6M394.3 477.1v4.6M395 477.1v4.6M396.3 477.1v4.6M401.3 477.1v4.6M403.1 477.1v4.6M414.4 477.1v4.6M427.9 477.1v4.6M430.1 477.1v4.6M438 477.1v4.6M444.5 477.1v4.6M449.6 477.1v4.6M453.5 477.1v4.6M455.4 477.1v4.6M463 477.1v4.6M463.6 477.1v4.6M471.2 477.1v4.6M475.6 477.1v4.6M477.4 477.1v4.6M479.9 477.1v4.6M482 477.1v4.6M485.7 477.1v4.6" stroke="#1a1a1a" stroke-width="1.3" fill="none"/>
<path d="M373 479.4h4M378.6 479.4h4M388 479.4h4M390.5 479.4h4M391.4 479.4h4M392.3 479.4h4M393 479.4h4M394.3 479.4h4M399.3 479.4h4M401.1 479.4h4M412.4 479.4h4M425.9 479.4h4M428.1 479.4h4M436 479.4h4M442.5 479.4h4M447.6 479.4h4M451.5 479.4h4M453.4 479.4h4M461 479.4h4M461.6 479.4h4M469.2 479.4h4M473.6 479.4h4M475.4 479.4h4M477.9 479.4h4M480 479.4h4M483.7 479.4h4" stroke="#2e2e2e" stroke-width="1" fill="none"/>
</svg>
</body></html>
